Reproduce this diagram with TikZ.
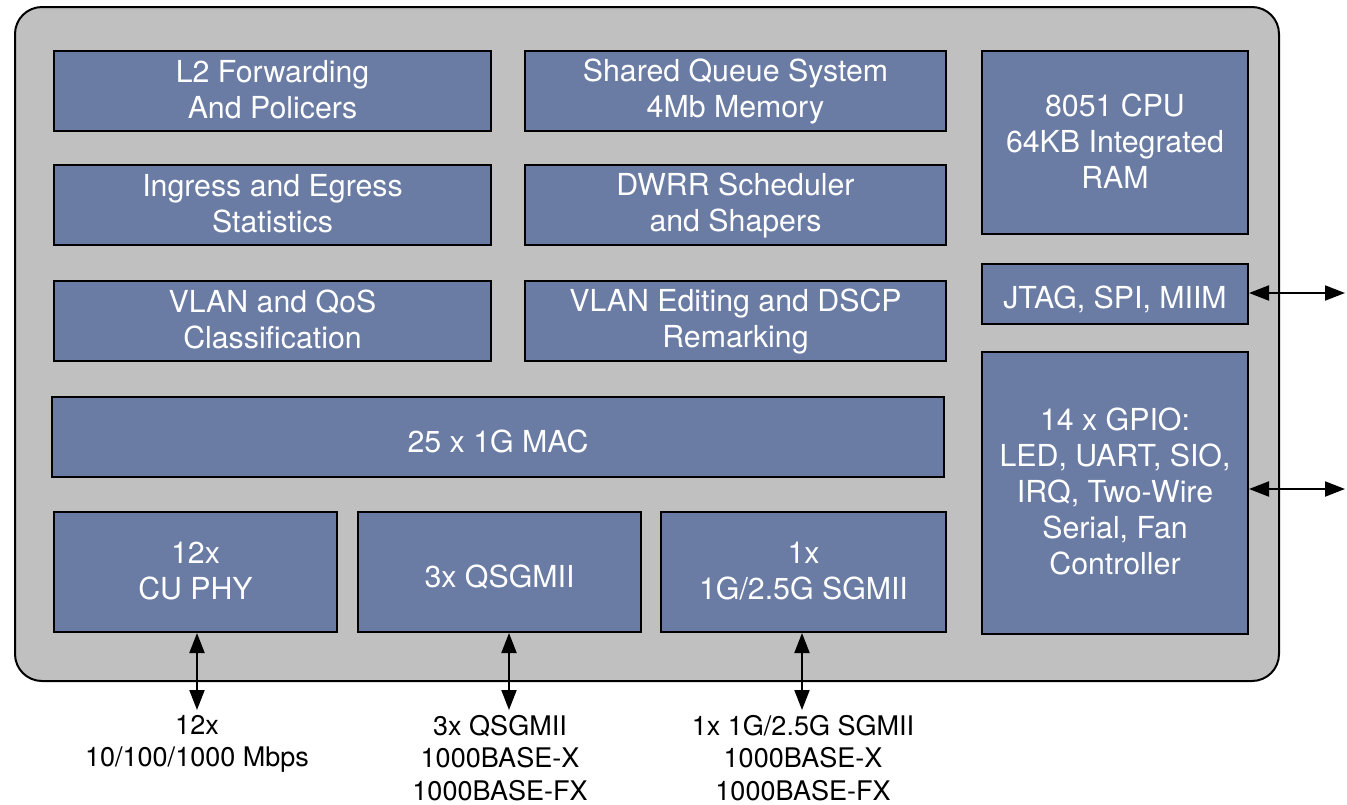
\documentclass[tikz,border=0pt]{standalone}
\usepackage{fontspec}
\setmainfont{TeX Gyre Heros}
\usetikzlibrary{arrows.meta}
\definecolor{blk}{RGB}{106,124,164}
\definecolor{bg}{RGB}{192,192,192}
\newcommand\mybstrut{\rule[-3pt]{0pt}{36pt}}
\begin{document}
\begin{tikzpicture}[x=1pt,y=-1pt,
  blkbox/.style={draw=black, line width=2pt, fill=blk, text=white, align=center, inner sep=0pt,
    font=\fontsize{30.3}{36}\selectfont, execute at begin node=\mybstrut, execute at end node=\mybstrut},
  lbl/.style={align=center, inner sep=0pt, anchor=north, font=\fontsize{27}{32.5}\selectfont,
    execute at begin node=\strut},
  io/.style={line width=2pt, {Triangle[length=20pt,width=15pt]}-{Triangle[length=20pt,width=15pt]}}]
\useasboundingbox (0,0) rectangle (1347,804);
\draw[line width=2pt, fill=bg, rounded corners=27pt] (15,7) rectangle (1279,681);
\node[blkbox, minimum width=437pt, minimum height=80pt] (l2) at (272.5,91) {L2 Forwarding\\And Policers};
\node[blkbox, minimum width=421pt, minimum height=80pt] (sq) at (735.5,91) {Shared Queue System\\4Mb Memory};
\node[blkbox, minimum width=266pt, minimum height=183pt] (cpu) at (1115,142.5) {8051 CPU\\64KB Integrated\\RAM};
\node[blkbox, minimum width=437pt, minimum height=80pt] (ing) at (272.5,205) {Ingress and Egress\\Statistics};
\node[blkbox, minimum width=421pt, minimum height=80pt] (dwrr) at (735.5,205) {DWRR Scheduler\\and Shapers};
\node[blkbox, minimum width=266pt, minimum height=60pt] (jtag) at (1115,294) {JTAG, SPI, MIIM};
\node[blkbox, minimum width=437pt, minimum height=80pt] (vlan) at (272.5,321) {VLAN and QoS\\Classification};
\node[blkbox, minimum width=421pt, minimum height=80pt] (vedit) at (735.5,321) {VLAN Editing and DSCP\\Remarking};
\node[blkbox, minimum width=892pt, minimum height=80pt] (mac) at (498,437) {25 x 1G MAC};
\node[blkbox, minimum width=266pt, minimum height=282pt] (gpio) at (1115,493) {14 x GPIO:\\LED, UART, SIO,\\IRQ, Two-Wire\\Serial, Fan\\Controller};
\node[blkbox, minimum width=283pt, minimum height=120pt] (phy) at (195.5,572) {12x\\CU PHY};
\node[blkbox, minimum width=283pt, minimum height=120pt] (qsg) at (499.5,572) {3x QSGMII};
\node[blkbox, minimum width=285pt, minimum height=120pt] (sgm) at (803.5,572) {1x\\1G/2.5G SGMII};
\coordinate (jo) at (1345,293);
\coordinate (go) at (1345,489);
\coordinate (po) at (197,710);
\coordinate (qo) at (509,710);
\coordinate (so) at (802,710);
\draw[io] (jtag.east |- jo) -- (jo);
\draw[io] (gpio.east |- go) -- (go);
\draw[io] (po |- phy.south) -- (po);
\draw[io] (qo |- qsg.south) -- (qo);
\draw[io] (so |- sgm.south) -- (so);
\node[lbl] (pl) at (197,715) {12x\\10/100/1000 Mbps};
\node[lbl] (ql) at (500,715) {3x QSGMII\\1000BASE-X\\1000BASE-FX};
\node[lbl] (sl) at (803,715) {1x 1G/2.5G SGMII\\1000BASE-X\\1000BASE-FX};
\end{tikzpicture}
\end{document}
